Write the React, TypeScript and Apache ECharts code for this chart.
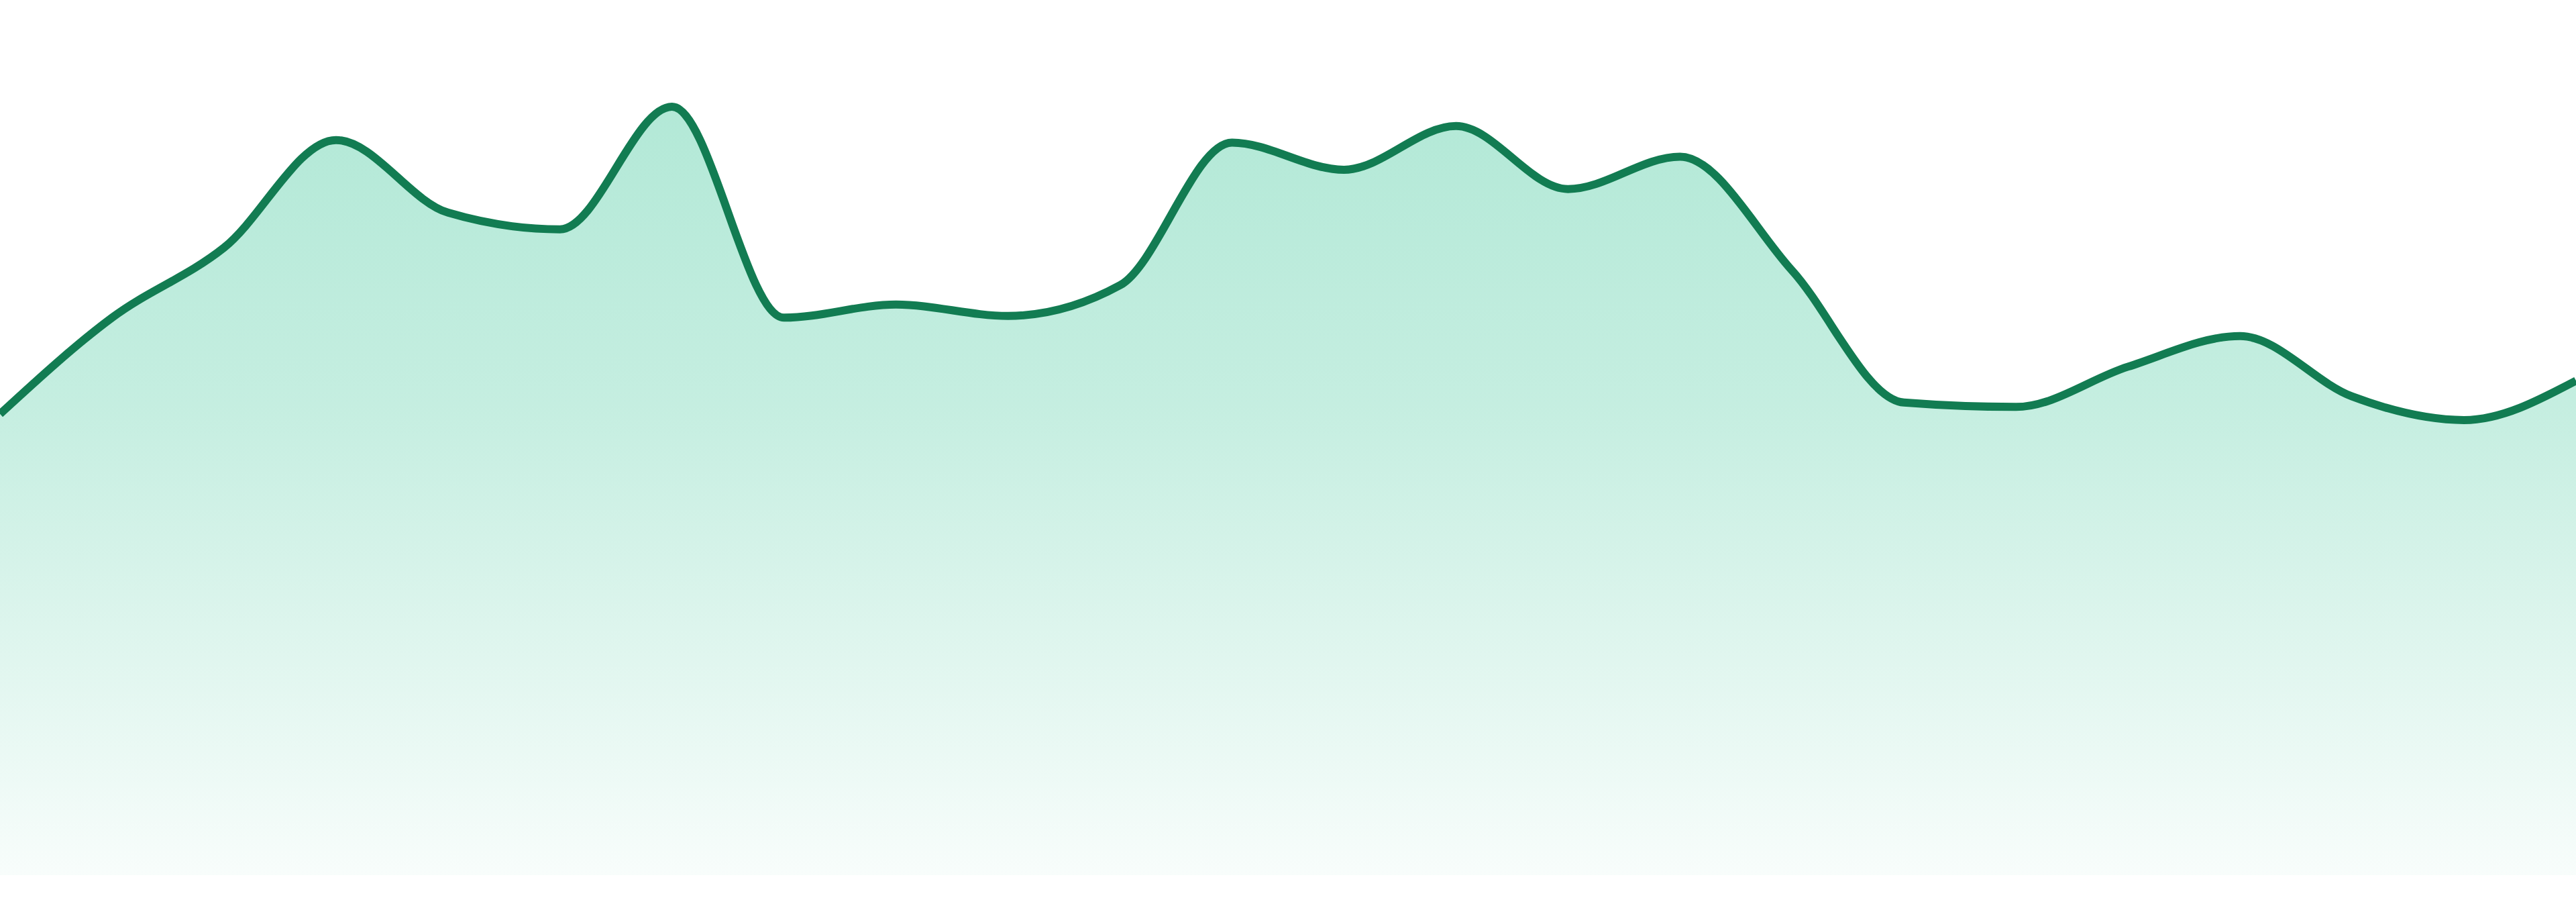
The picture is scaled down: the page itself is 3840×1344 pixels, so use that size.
import React, { useEffect, useRef } from "react";
import * as echarts from "echarts";

const categories: string[] = [
  "1", "2", "3", "4", "5", "6", "7", "8", "9", "10", "11", "12",
  "13", "14", "15", "16", "17", "18", "19", "20", "21", "22", "23", "24",
];

const values: number[] = [
  52.7, 63.7, 71.7, 84.0, 75.7, 73.8, 87.8, 63.7, 65.2, 63.9, 67.4, 83.7,
  80.6, 85.6, 78.4, 82.1, 69.1, 54.0, 53.5, 58.1, 61.6, 54.7, 52.0, 56.5,
];

const yMin = 0;
const yMax = 100;

const LINE_COLOR = "#127c52";

// Monotone-X cubic path (same construction as d3.curveMonotoneX)
function monotonePath(pts: number[][]): string {
  const n = pts.length;
  if (n < 2) return "";
  const sgn = (v: number) => (v < 0 ? -1 : 1);
  const slope = (i: number) => (pts[i + 1][1] - pts[i][1]) / (pts[i + 1][0] - pts[i][0]);
  const t: number[] = new Array(n).fill(0);
  for (let i = 1; i < n - 1; i++) {
    const h0 = pts[i][0] - pts[i - 1][0];
    const h1 = pts[i + 1][0] - pts[i][0];
    const s0 = slope(i - 1);
    const s1 = slope(i);
    const p = (s0 * h1 + s1 * h0) / (h0 + h1);
    t[i] = (sgn(s0) + sgn(s1)) * Math.min(Math.abs(s0), Math.abs(s1), 0.5 * Math.abs(p)) || 0;
  }
  if (n > 2) {
    t[0] = (3 * slope(0) - t[1]) / 2;
    t[n - 1] = (3 * slope(n - 2) - t[n - 2]) / 2;
  } else {
    t[0] = t[1] = slope(0);
  }
  let d = `M${pts[0][0]},${pts[0][1]}`;
  for (let i = 0; i < n - 1; i++) {
    const [x0, y0] = pts[i];
    const [x1, y1] = pts[i + 1];
    const dx = (x1 - x0) / 3;
    d += `C${x0 + dx},${y0 + dx * t[i]},${x1 - dx},${y1 - dx * t[i + 1]},${x1},${y1}`;
  }
  return d;
}

export default function App() {
  const ref = useRef<HTMLDivElement>(null);

  useEffect(() => {
    if (!ref.current) return;
    const chart = echarts.init(ref.current, undefined, { renderer: "svg" });
    chart.setOption({
      animation: false,
      grid: { left: 0, right: 0, top: 0, bottom: 0 },
      xAxis: {
        type: "category",
        data: categories,
        boundaryGap: false,
        show: false,
      },
      yAxis: {
        type: "value",
        min: yMin,
        max: yMax,
        show: false,
      },
      tooltip: { show: false },
      series: [
        {
          type: "custom",
          data: values.map((v, i) => [i, v]),
          encode: { x: 0, y: 1 },
          clip: true,
          renderItem: (params: any, api: any) => {
            if (params.dataIndex !== 0) return { type: "group", children: [] };
            const pts = values.map((v, i) => api.coord([i, v]));
            const line = monotonePath(pts);
            const bottom = api.coord([0, yMin])[1];
            const area =
              line +
              `L${pts[pts.length - 1][0]},${bottom}L${pts[0][0]},${bottom}Z`;
            return {
              type: "group",
              children: [
                {
                  type: "path",
                  shape: { pathData: area },
                  style: {
                    fill: new echarts.graphic.LinearGradient(0, 0, 0, 1, [
                      { offset: 0, color: "rgba(16,185,129,0.32)" },
                      { offset: 0.4, color: "rgba(16,185,129,0.24)" },
                      { offset: 1, color: "rgba(16,185,129,0.03)" },
                    ]),
                    stroke: "none",
                  },
                },
                {
                  type: "path",
                  shape: { pathData: line },
                  style: {
                    fill: "none",
                    stroke: LINE_COLOR,
                    lineWidth: 12,
                    lineJoin: "round",
                  },
                },
              ],
            };
          },
        },
      ],
    });
    return () => chart.dispose();
  }, []);

  return (
    <div
      ref={ref}
      style={{ position: "absolute", left: 0, top: 0, width: 3840, height: 1304 }}
    />
  );
}
